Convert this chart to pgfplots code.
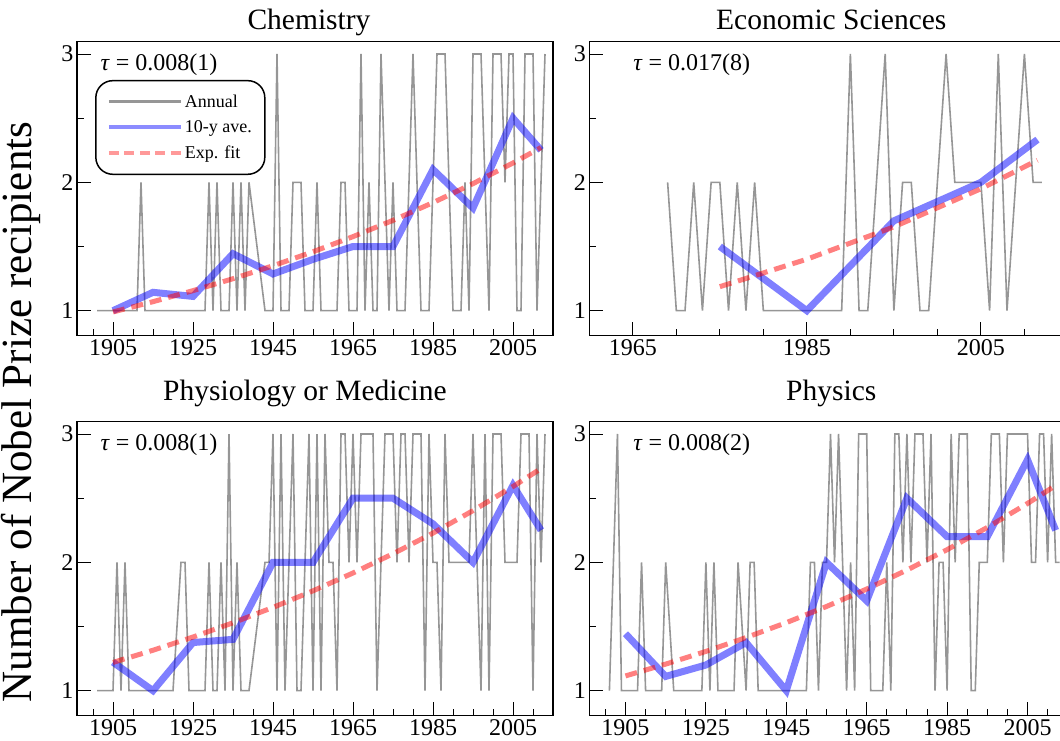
\documentclass[border=0pt]{standalone}
\usepackage{fontspec}
\setmainfont{Liberation Serif}
\usepackage{pgfplots}
\usepackage{pgfplotstable}
\pgfplotsset{compat=1.18}

\definecolor{annualgray}{RGB}{150,150,150}

% annual numbers of laureates (years without a prize are left out)
\pgfplotstableread[row sep=\\]{
year n\\
1901 1\\ 1902 1\\ 1903 1\\ 1904 1\\ 1905 1\\ 1906 1\\ 1907 1\\ 1908 1\\ 1909 1\\ 1910 1\\
1911 1\\ 1912 2\\ 1913 1\\ 1914 1\\ 1915 1\\ 1918 1\\ 1920 1\\
1921 1\\ 1922 1\\ 1923 1\\ 1925 1\\ 1926 1\\ 1927 1\\ 1928 1\\ 1929 2\\ 1930 1\\
1931 2\\ 1932 1\\ 1934 1\\ 1935 2\\ 1936 1\\ 1937 2\\ 1938 1\\ 1939 2\\
1943 1\\ 1944 1\\ 1945 1\\ 1946 3\\ 1947 1\\ 1948 1\\ 1949 1\\ 1950 2\\
1951 2\\ 1952 2\\ 1953 1\\ 1954 1\\ 1955 1\\ 1956 2\\ 1957 1\\ 1958 1\\ 1959 1\\ 1960 1\\
1961 1\\ 1962 2\\ 1963 2\\ 1964 1\\ 1965 1\\ 1966 1\\ 1967 3\\ 1968 1\\ 1969 2\\ 1970 1\\
1971 1\\ 1972 3\\ 1973 2\\ 1974 1\\ 1975 2\\ 1976 1\\ 1977 1\\ 1978 1\\ 1979 2\\ 1980 3\\
1981 2\\ 1982 1\\ 1983 1\\ 1984 1\\ 1985 2\\ 1986 3\\ 1987 3\\ 1988 3\\ 1989 2\\ 1990 1\\
1991 1\\ 1992 1\\ 1993 2\\ 1994 1\\ 1995 3\\ 1996 3\\ 1997 3\\ 1998 2\\ 1999 1\\ 2000 3\\
2001 3\\ 2002 3\\ 2003 2\\ 2004 3\\ 2005 3\\ 2006 1\\ 2007 1\\ 2008 3\\ 2009 3\\ 2010 3\\
2011 1\\ 2012 2\\ 2013 3\\
}\chemyear

\pgfplotstableread[row sep=\\]{
year n\\
1969 2\\ 1970 1\\ 1971 1\\ 1972 2\\ 1973 1\\ 1974 2\\ 1975 2\\ 1976 1\\ 1977 2\\ 1978 1\\ 1979 2\\ 1980 1\\
1981 1\\ 1982 1\\ 1983 1\\ 1984 1\\ 1985 1\\ 1986 1\\ 1987 1\\ 1988 1\\ 1989 1\\ 1990 3\\
1991 1\\ 1992 1\\ 1993 2\\ 1994 3\\ 1995 1\\ 1996 2\\ 1997 2\\ 1998 1\\ 1999 1\\ 2000 2\\
2001 3\\ 2002 2\\ 2003 2\\ 2004 2\\ 2005 2\\ 2006 1\\ 2007 3\\ 2008 1\\ 2009 2\\ 2010 3\\
2011 2\\ 2012 2\\
}\econyear

\pgfplotstableread[row sep=\\]{
year n\\
1901 1\\ 1902 1\\ 1903 1\\ 1904 1\\ 1905 1\\ 1906 2\\ 1907 1\\ 1908 2\\ 1909 1\\ 1910 1\\
1911 1\\ 1912 1\\ 1913 1\\ 1914 1\\ 1919 1\\ 1920 1\\
1922 2\\ 1923 2\\ 1924 1\\ 1926 1\\ 1927 1\\ 1928 1\\ 1929 2\\ 1930 1\\
1931 1\\ 1932 2\\ 1933 1\\ 1934 3\\ 1935 1\\ 1936 2\\ 1937 1\\ 1938 1\\ 1939 1\\
1943 2\\ 1944 2\\ 1945 3\\ 1946 1\\ 1947 3\\ 1948 1\\ 1949 2\\ 1950 3\\
1951 1\\ 1952 1\\ 1953 2\\ 1954 3\\ 1955 1\\ 1956 3\\ 1957 1\\ 1958 3\\ 1959 2\\ 1960 2\\
1961 1\\ 1962 3\\ 1963 3\\ 1964 2\\ 1965 3\\ 1966 2\\ 1967 3\\ 1968 3\\ 1969 3\\ 1970 3\\
1971 1\\ 1972 2\\ 1973 3\\ 1974 3\\ 1975 3\\ 1976 2\\ 1977 3\\ 1978 3\\ 1979 2\\ 1980 3\\
1981 3\\ 1982 3\\ 1983 1\\ 1984 3\\ 1985 2\\ 1986 2\\ 1987 1\\ 1988 3\\ 1989 2\\ 1990 2\\
1991 2\\ 1992 2\\ 1993 2\\ 1994 2\\ 1995 3\\ 1996 2\\ 1997 1\\ 1998 3\\ 1999 1\\ 2000 3\\
2001 3\\ 2002 3\\ 2003 2\\ 2004 2\\ 2005 2\\ 2006 2\\ 2007 3\\ 2008 3\\ 2009 3\\ 2010 1\\
2011 3\\ 2012 2\\ 2013 3\\
}\medyear

\pgfplotstableread[row sep=\\]{
year n\\
1901 1\\ 1902 2\\ 1903 3\\ 1904 1\\ 1905 1\\ 1906 1\\ 1907 1\\ 1908 1\\ 1909 2\\ 1910 1\\
1911 1\\ 1912 1\\ 1913 1\\ 1914 1\\ 1915 2\\ 1917 1\\ 1918 1\\ 1919 1\\ 1920 1\\
1921 1\\ 1922 1\\ 1923 1\\ 1924 1\\ 1925 2\\ 1926 1\\ 1927 2\\ 1928 1\\ 1929 1\\ 1930 1\\
1932 1\\ 1933 2\\ 1935 1\\ 1936 2\\ 1937 2\\ 1938 1\\ 1939 1\\
1943 1\\ 1944 1\\ 1945 1\\ 1946 1\\ 1947 1\\ 1948 1\\ 1949 1\\ 1950 1\\
1951 2\\ 1952 2\\ 1953 1\\ 1954 2\\ 1955 2\\ 1956 3\\ 1957 2\\ 1958 3\\ 1959 2\\ 1960 1\\
1961 2\\ 1962 1\\ 1963 3\\ 1964 3\\ 1965 3\\ 1966 1\\ 1967 1\\ 1968 1\\ 1969 1\\ 1970 2\\
1971 1\\ 1972 3\\ 1973 3\\ 1974 2\\ 1975 3\\ 1976 2\\ 1977 3\\ 1978 3\\ 1979 3\\ 1980 2\\
1981 3\\ 1982 1\\ 1983 2\\ 1984 2\\ 1985 1\\ 1986 3\\ 1987 2\\ 1988 3\\ 1989 3\\ 1990 3\\
1991 1\\ 1992 1\\ 1993 2\\ 1994 2\\ 1995 2\\ 1996 3\\ 1997 3\\ 1998 3\\ 1999 2\\ 2000 3\\
2001 3\\ 2002 3\\ 2003 3\\ 2004 3\\ 2005 3\\ 2006 2\\ 2007 2\\ 2008 3\\ 2009 3\\ 2010 2\\
2011 3\\ 2012 2\\ 2013 2\\
}\physyear

\pgfplotsset{
  nobel/.style={
    scale only axis, width=476pt, height=294pt,
    anchor=south west,
    ymin=0.805, ymax=3.096,
    ytick={1,2,3}, minor ytick={1.5,2.5},
    tick align=inside, xtick pos=bottom, ytick pos=left,
    major tick length=14pt, minor tick length=7pt,
    tick style={black, line width=1pt},
    axis line style={line width=1.5pt},
    tick label style={font=\fontsize{24}{24}\selectfont},
    /pgf/number format/assume math mode=true,
    /pgf/number format/1000 sep={},
    every axis title shift=0pt,
    title style={font=\fontsize{29.5}{29.5}\selectfont, anchor=base},
  },
  annual/.style={annualgray, line width=1.6pt, forget plot},
  avg/.style={blue, opacity=0.5, line width=7pt, forget plot},
  expfit/.style={red, opacity=0.5, line width=5pt, dash pattern=on 12pt off 7pt, forget plot},
}

\newcommand{\taulabel}[2]{\node[anchor=west, font=\fontsize{24}{24}\selectfont] at (rel axis cs:#1,0.921) {\textit{τ} = #2};}

\begin{document}
\begin{tikzpicture}

% Chemistry
\begin{axis}[nobel, at={(77pt,405.3pt)},
  xmin=1896, xmax=2015,
  xtick={1905,1925,...,2005}, minor xtick={1900,1905,...,2015},
  title={Chemistry}, title style={yshift=12.5pt, xshift=-6pt},
  legend style={at={(0.038,0.87)}, anchor=north west, draw=black, line width=1.5pt,
    rounded corners=17pt, font=\fontsize{18}{18}\selectfont,
    inner xsep=11pt, inner ysep=12pt, row sep=8pt, cells={anchor=west}}]
\addlegendimage{legend image code/.code={\draw[annualgray, line width=3pt] (0pt,0pt) -- (72pt,0pt);}}
\addlegendentry{Annual}
\addlegendimage{legend image code/.code={\draw[blue, opacity=0.45, line width=4pt] (0pt,0pt) -- (72pt,0pt);}}
\addlegendentry{10-y ave.}
\addlegendimage{legend image code/.code={\draw[red, opacity=0.4, line width=4pt, dash pattern=on 10pt off 5.5pt] (0pt,0pt) -- (72pt,0pt);}}
\addlegendentry{Exp. fit}
\addplot[annual] table[x=year, y=n] {\chemyear};
\addplot[avg] coordinates {(1905,1.0) (1915,1.143) (1925,1.111) (1935,1.444) (1945,1.286) (1955,1.4) (1965,1.5) (1975,1.5) (1985,2.1) (1995,1.8) (2005,2.5) (2012,2.25)};
\addplot[expfit] coordinates {(1905,0.990) (1915,1.070) (1925,1.156) (1935,1.249) (1945,1.350) (1955,1.459) (1965,1.577) (1975,1.704) (1985,1.842) (1995,1.990) (2005,2.151) (2012,2.271)};
\taulabel{0.042}{0.008(1)}
\end{axis}

% Economic Sciences
\begin{axis}[nobel, at={(589.3pt,405.3pt)},
  xmin=1960, xmax=2014.7,
  xtick={1965,1985,2005}, minor xtick={1960,1965,...,2010},
  title={Economic Sciences}, title style={yshift=12.5pt, xshift=4pt}]
\addplot[annual] table[x=year, y=n] {\econyear};
\addplot[avg] coordinates {(1975,1.5) (1985,1.0) (1995,1.7) (2005,2.0) (2011.5,2.333)};
\addplot[expfit] coordinates {(1975,1.187) (1985,1.401) (1995,1.653) (2005,1.950) (2011.5,2.172)};
\taulabel{0.085}{0.017(8)}
\end{axis}

% Physiology or Medicine
\begin{axis}[nobel, at={(77pt,25.3pt)},
  xmin=1896, xmax=2015,
  xtick={1905,1925,...,2005}, minor xtick={1900,1905,...,2015},
  title={Physiology or Medicine}, title style={yshift=21pt, xshift=-10pt}]
\addplot[annual] table[x=year, y=n] {\medyear};
\addplot[avg] coordinates {(1905,1.222) (1915,1.0) (1925,1.375) (1935,1.4) (1945,2.0) (1955,2.0) (1965,2.5) (1975,2.5) (1985,2.3) (1995,2.0) (2005,2.6) (2012,2.25)};
\addplot[expfit] coordinates {(1905,1.220) (1915,1.315) (1925,1.418) (1935,1.529) (1945,1.649) (1955,1.778) (1965,1.917) (1975,2.067) (1985,2.228) (1995,2.403) (2005,2.591) (2012,2.731)};
\taulabel{0.042}{0.008(1)}
\end{axis}

% Physics
\begin{axis}[nobel, at={(589.3pt,25.3pt)},
  xmin=1896, xmax=2014.4,
  xtick={1905,1925,...,2005}, minor xtick={1900,1905,...,2010},
  title={Physics}, title style={yshift=21pt, xshift=4pt}]
\addplot[annual] table[x=year, y=n] {\physyear};
\addplot[avg] coordinates {(1905,1.444) (1915,1.111) (1925,1.2) (1935,1.375) (1945,1.0) (1955,2.0) (1965,1.7) (1975,2.5) (1985,2.2) (1995,2.2) (2005,2.8) (2012,2.25)};
\addplot[expfit] coordinates {(1905,1.115) (1915,1.207) (1925,1.306) (1935,1.414) (1945,1.530) (1955,1.656) (1965,1.792) (1975,1.940) (1985,2.099) (1995,2.272) (2005,2.459) (2012,2.599)};
\taulabel{0.085}{0.008(2)}
\end{axis}

\node[rotate=90, font=\fontsize{43}{43}\selectfont] at (21pt,329pt) {Number of Nobel Prize recipients};

\pgfresetboundingbox
\path[use as bounding box] (0,0) rectangle (1060pt,741pt);
\end{tikzpicture}
\end{document}
